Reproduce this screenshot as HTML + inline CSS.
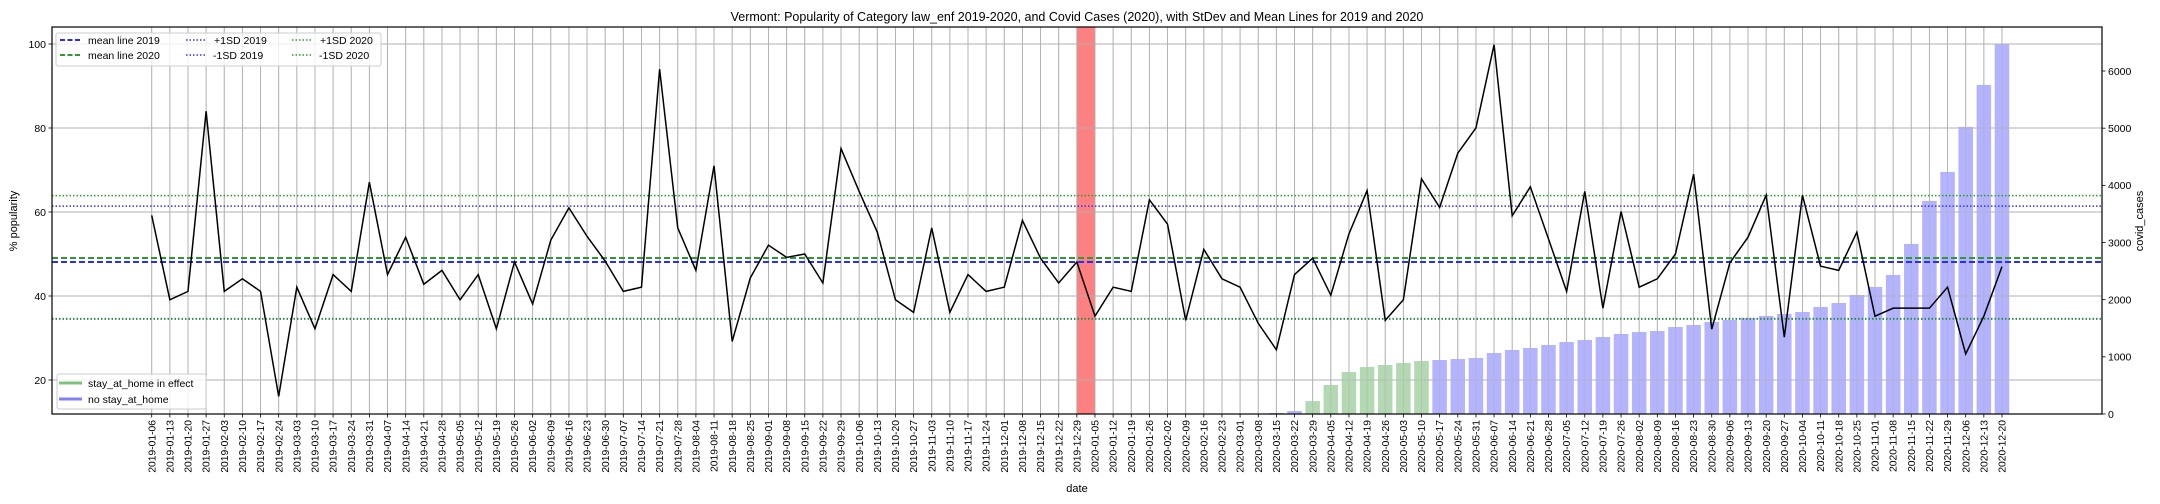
<!DOCTYPE html>
<html><head><meta charset="utf-8"><title>Vermont law_enf popularity</title>
<style>
html,body{margin:0;padding:0;background:#fff;}
svg{display:block;font-family:"Liberation Sans","DejaVu Sans",sans-serif;}
</style></head>
<body>
<svg id="chart" width="2160" height="504" viewBox="0 0 2160 504" xmlns="http://www.w3.org/2000/svg">
<text x="1077" y="21" text-anchor="middle" font-size="12.5" fill="#000">Vermont: Popularity of Category law_enf 2019-2020, and Covid Cases (2020), with StDev and Mean Lines for 2019 and 2020</text>
<g id="grid"></g>
<g id="bars"></g>
<g id="refs"></g>
<g id="line"></g>
<g id="axes"></g>
<text x="1077" y="492" text-anchor="middle" font-size="11">date</text>
<text transform="translate(17,221) rotate(-90)" text-anchor="middle" font-size="11">% popularity</text>
<text transform="translate(2143,221) rotate(-90)" text-anchor="middle" font-size="11">covid_cases</text>
<g>
<rect x="56" y="33" width="325" height="33" fill="#fff" fill-opacity="0.8" stroke="#ccc" rx="2"/>
<g><line x1="60" y1="40" x2="80" y2="40" stroke="#2b2bff" stroke-width="2" stroke-dasharray="5,2.5"/><text x="88" y="44" font-size="10.5">mean line 2019</text></g>
<g><line x1="60" y1="55" x2="80" y2="55" stroke="#2a9d2a" stroke-width="2" stroke-dasharray="5,2.5"/><text x="88" y="59" font-size="10.5">mean line 2020</text></g>
<g><line x1="186" y1="40" x2="206" y2="40" stroke="#3333ff" stroke-width="1.6" stroke-dasharray="1.5,2"/><text x="214" y="44" font-size="10.5">+1SD 2019</text></g>
<g><line x1="186" y1="55" x2="206" y2="55" stroke="#3333ff" stroke-width="1.6" stroke-dasharray="1.5,2"/><text x="213" y="59" font-size="10.5">-1SD 2019</text></g>
<g><line x1="292" y1="40" x2="312" y2="40" stroke="#2a9d2a" stroke-width="1.6" stroke-dasharray="1.5,2"/><text x="320" y="44" font-size="10.5">+1SD 2020</text></g>
<g><line x1="292" y1="55" x2="312" y2="55" stroke="#2a9d2a" stroke-width="1.6" stroke-dasharray="1.5,2"/><text x="319" y="59" font-size="10.5">-1SD 2020</text></g>
</g>
<g>
<rect x="57" y="374" width="149" height="35" fill="#fff" fill-opacity="0.8" stroke="#ccc" rx="2"/>
<g><line x1="59" y1="383" x2="82" y2="383" stroke="#80c080" stroke-width="3"/><text x="88" y="387" font-size="10.5">stay_at_home in effect</text></g>
<g><line x1="59" y1="399" x2="82" y2="399" stroke="#8080ff" stroke-width="3"/><text x="88" y="403" font-size="10.5">no stay_at_home</text></g>
</g>
</svg>
<script>
const dates = ["2019-01-06","2019-01-13","2019-01-20","2019-01-27","2019-02-03","2019-02-10","2019-02-17","2019-02-24","2019-03-03","2019-03-10","2019-03-17","2019-03-24","2019-03-31","2019-04-07","2019-04-14","2019-04-21","2019-04-28","2019-05-05","2019-05-12","2019-05-19","2019-05-26","2019-06-02","2019-06-09","2019-06-16","2019-06-23","2019-06-30","2019-07-07","2019-07-14","2019-07-21","2019-07-28","2019-08-04","2019-08-11","2019-08-18","2019-08-25","2019-09-01","2019-09-08","2019-09-15","2019-09-22","2019-09-29","2019-10-06","2019-10-13","2019-10-20","2019-10-27","2019-11-03","2019-11-10","2019-11-17","2019-11-24","2019-12-01","2019-12-08","2019-12-15","2019-12-22","2019-12-29",
"2020-01-05","2020-01-12","2020-01-19","2020-01-26","2020-02-02","2020-02-09","2020-02-16","2020-02-23","2020-03-01","2020-03-08","2020-03-15","2020-03-22","2020-03-29","2020-04-05","2020-04-12","2020-04-19","2020-04-26","2020-05-03","2020-05-10","2020-05-17","2020-05-24","2020-05-31","2020-06-07","2020-06-14","2020-06-21","2020-06-28","2020-07-05","2020-07-12","2020-07-19","2020-07-26","2020-08-02","2020-08-09","2020-08-16","2020-08-23","2020-08-30","2020-09-06","2020-09-13","2020-09-20","2020-09-27","2020-10-04","2020-10-11","2020-10-18","2020-10-25","2020-11-01","2020-11-08","2020-11-15","2020-11-22","2020-11-29","2020-12-06","2020-12-13","2020-12-20"];
const popularity = [59.2,39.1,41.1,84.0,41.1,44.1,41.1,16.1,42.1,32.2,45.1,41.1,67.1,45.1,54.0,42.8,46.1,39.1,45.1,32.2,48.1,38.1,53.3,61.0,54.2,48.3,41.1,42.1,94.0,56.2,46.1,71.0,29.2,44.3,52.1,49.2,50.0,43.1,75.1,64.9,55.2,39.1,36.1,56.2,36.1,45.1,41.1,42.1,58.0,49.0,43.1,48.1,35.2,42.1,41.1,62.9,57.1,34.2,51.1,44.1,42.1,33.5,27.2,45.1,49.0,40.2,54.8,65.1,34.2,39.1,67.9,61.1,74.0,80.0,99.8,59.1,66.0,53.6,41.1,64.9,37.1,60.1,42.1,44.1,50.0,69.0,32.1,47.9,54.0,64.0,30.2,64.0,47.1,46.1,55.2,35.2,37.1,37.1,37.1,42.1,26.2,35.2,47.0];
const covidCases = [0,0,0,0,0,0,0,0,0,0,0,0,0,0,0,0,0,0,0,0,0,0,0,0,0,0,0,0,0,0,0,0,0,0,0,0,0,0,0,0,0,0,0,0,0,0,0,0,0,0,0,0,
0,0,0,0,0,0,0,0,0,0,17,52,227,508,735,822,857,892,927,945,962,980,1067,1120,1155,1207,1260,1295,1347,1400,1435,1452,1522,1557,1610,1645,1680,1715,1750,1785,1872,1942,2082,2222,2432,2975,3727,4234,5022,5757,6468];
const stayAtHome = [0,0,0,0,0,0,0,0,0,0,0,0,0,0,0,0,0,0,0,0,0,0,0,0,0,0,0,0,0,0,0,0,0,0,0,0,0,0,0,0,0,0,0,0,0,0,0,0,0,0,0,0,
0,0,0,0,0,0,0,0,0,0,0,0,1,1,1,1,1,1,1,0,0,0,0,0,0,0,0,0,0,0,0,0,0,0,0,0,0,0,0,0,0,0,0,0,0,0,0,0,0,0,0];
const refNames = ["mean-line-2019","mean-line-2020","plus-1sd-2019","minus-1sd-2019","plus-1sd-2020","minus-1sd-2020"];
const refValues = [48.1,49.05,61.4,34.6,63.9,34.5];
const leftTicks = [20,40,60,80,100];
const rightTicks = [0,1000,2000,3000,4000,5000,6000];
const yearBoundary = ["2019-12-29","2020-01-05"];

const NS="http://www.w3.org/2000/svg";
const L=52,R=2102,T=27,B=414;
const x0=151.7, step=18.14;
function xs(i){return x0+step*i;}
function yL(v){return 44+(100-v)*4.2;}
function yR(c){return B-c*(343/6000);}
function mk(tag,attrs,parent){const e=document.createElementNS(NS,tag);for(const k in attrs)e.setAttribute(k,attrs[k]);parent.appendChild(e);return e;}
const grid=document.getElementById('grid'),bars=document.getElementById('bars'),refs=document.getElementById('refs'),line=document.getElementById('line'),axes=document.getElementById('axes');

// red band
const b0=dates.indexOf(yearBoundary[0]),b1=dates.indexOf(yearBoundary[1]);
const band=mk('rect',{x:xs(b0),y:T,width:xs(b1)-xs(b0),height:B-T,fill:'#ff8080'},grid);



// bars
covidCases.forEach((c,i)=>{
  if(c<=0)return;
  const r=mk('rect',{x:xs(i)-7.25,y:yR(c),width:14.5,height:B-yR(c),fill:stayAtHome[i]?'#b3d9b3':'#b3b3ff'},bars);
  
  
});

// grid lines (drawn above bars like matplotlib twin axis order)
dates.forEach((d,i)=>{
  const g=mk('line',{x1:xs(i),y1:T,x2:xs(i),y2:B,stroke:'#b0b0b0','stroke-width':0.9},grid);
  
  
});
leftTicks.forEach(v=>{
  const g=mk('line',{x1:L,y1:yL(v),x2:R,y2:yL(v),stroke:'#b0b0b0','stroke-width':0.9},grid);
  
  
});
// grid over bars: move grid of vertical lines above bars visually
bars.parentNode.insertBefore(grid.cloneNode(false),bars);
const gridTop=grid.cloneNode(true);
gridTop.removeChild(gridTop.firstChild);
gridTop.setAttribute('opacity','0.6');
bars.parentNode.insertBefore(gridTop,refs);

// reference lines
const refColors=['#2b2bff','#2a9d2a','#3333ff','#3333ff','#2a9d2a','#2a9d2a'];
const refDash=['6,3','6,3','1.5,2','1.5,2','1.5,2','1.5,2'];
const refW=[2,2,1.6,1.6,1.6,1.6];
refValues.forEach((v,k)=>{
  const l=mk('line',{x1:L,y1:yL(v),x2:R,y2:yL(v),stroke:refColors[k],'stroke-width':refW[k],'stroke-dasharray':refDash[k]},refs);
  
  
});

// popularity line
const pts=popularity.map((v,i)=>xs(i).toFixed(2)+','+yL(v).toFixed(2)).join(' ');
const pl=mk('polyline',{points:pts,fill:'none',stroke:'#000','stroke-width':1.5,'stroke-linejoin':'miter'},line);



// axes frame
const fr=mk('rect',{x:L,y:T,width:R-L,height:B-T,fill:'none',stroke:'#000','stroke-width':1.2},axes);


dates.forEach((d,i)=>{
  mk('line',{x1:xs(i),y1:B,x2:xs(i),y2:B+3.5,stroke:'#000','stroke-width':0.8},axes);
  const t=mk('text',{transform:'translate('+(xs(i)+3.6)+','+(B+6)+') rotate(-90)','text-anchor':'end','font-size':10.3,fill:'#000'},axes);
  t.textContent=d;
  
  
});
leftTicks.forEach(v=>{
  mk('line',{x1:L-3.5,y1:yL(v),x2:L,y2:yL(v),stroke:'#000','stroke-width':0.8},axes);
  const t=mk('text',{x:L-6,y:yL(v)+3.8,'text-anchor':'end','font-size':10.5},axes);
  t.textContent=v;
  
  
});
rightTicks.forEach(c=>{
  mk('line',{x1:R,y1:yR(c),x2:R+3.5,y2:yR(c),stroke:'#000','stroke-width':0.8},axes);
  const t=mk('text',{x:R+6,y:yR(c)+3.8,'text-anchor':'start','font-size':10.5},axes);
  t.textContent=c;
  
  
});
</script>
</body></html>
